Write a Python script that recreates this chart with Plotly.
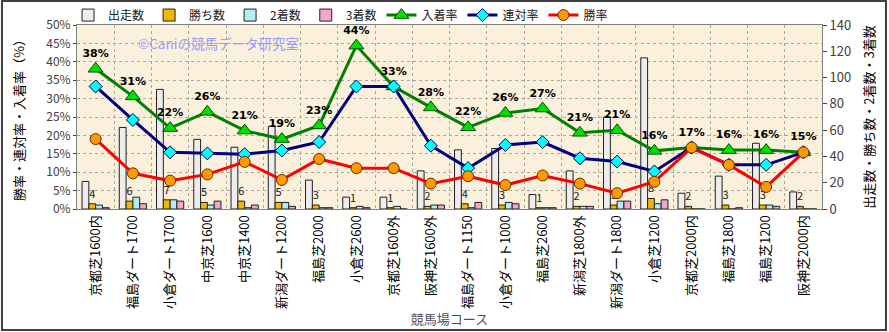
import plotly.graph_objects as go

courses = ["京都芝1600内", "福島ダート1700", "小倉ダート1700", "中京芝1600", "中京芝1400",
           "新潟ダート1200", "福島芝2000", "小倉芝2600", "京都芝1600外", "阪神芝1600外",
           "福島ダート1150", "小倉ダート1000", "福島芝2600", "新潟芝1800外", "新潟ダート1800",
           "小倉芝1200", "京都芝2000内", "福島芝1800", "福島芝1200", "阪神芝2000内"]

runs = [21, 62, 91, 53, 47, 63, 22, 9, 9, 29, 45, 46, 11, 29, 70, 115, 12, 25, 50, 13]
wins = [4, 6, 7, 5, 6, 5, 3, 1, 1, 2, 4, 3, 1, 2, 3, 8, 2, 3, 3, 2]
seconds = [3, 9, 7, 3, 1, 5, 1, 2, 2, 3, 1, 5, 1, 2, 6, 4, 0, 0, 3, 0]
thirds = [1, 4, 6, 6, 3, 2, 1, 1, 0, 3, 5, 4, 1, 2, 6, 7, 0, 1, 2, 0]

place_rate = [38.1, 30.6, 22.0, 26.4, 21.3, 19.0, 22.7, 44.4, 33.3, 27.6,
              22.2, 26.1, 27.3, 20.7, 21.4, 15.8, 16.7, 16.0, 16.0, 15.4]
quinella_rate = [33.3, 24.2, 15.4, 15.1, 14.9, 15.9, 18.2, 33.3, 33.3, 17.2,
                 11.1, 17.4, 18.2, 13.8, 12.9, 10.2, 16.7, 12.0, 12.0, 15.4]
win_rate = [19.0, 9.7, 7.7, 9.4, 12.8, 7.9, 13.6, 11.1, 11.1, 6.9,
            8.9, 6.5, 9.1, 6.9, 4.3, 7.4, 16.7, 12.0, 6.0, 15.4]
place_labels = ["38%", "31%", "22%", "26%", "21%", "19%", "23%", "44%", "33%", "28%",
                "22%", "26%", "27%", "21%", "21%", "16%", "17%", "16%", "16%", "15%"]

FONT = "Noto Sans CJK JP"
fig = go.Figure()

bar_line = dict(color="#202020", width=1)
fig.add_trace(go.Bar(name="出走数", x=courses, y=runs, yaxis="y",
                     marker=dict(color="#EDEDED", line=bar_line)))
fig.add_trace(go.Bar(name="勝ち数", x=courses, y=wins, yaxis="y",
                     marker=dict(color="#F2B705", line=bar_line),
                     text=[str(v) for v in wins], textposition="outside",
                     textfont=dict(size=11, color="#202020", family=FONT),
                     cliponaxis=False))
fig.add_trace(go.Bar(name="2着数", x=courses, y=seconds, yaxis="y",
                     marker=dict(color="#B4ECF2", line=bar_line)))
fig.add_trace(go.Bar(name="3着数", x=courses, y=thirds, yaxis="y",
                     marker=dict(color="#F2A6CC", line=bar_line)))

fig.add_trace(go.Scatter(name="入着率", x=courses, y=place_rate, yaxis="y2",
                         mode="lines+markers+text", text=place_labels,
                         textposition="top center",
                         textfont=dict(size=11, color="#000000", family="DejaVu Sans", weight="bold"),
                         line=dict(color="#008000", width=3),
                         marker=dict(symbol="triangle-up", size=13, color="#00E000",
                                     line=dict(color="#005000", width=1)),
                         cliponaxis=False))
fig.add_trace(go.Scatter(name="連対率", x=courses, y=quinella_rate, yaxis="y2",
                         mode="lines+markers",
                         line=dict(color="#000080", width=3),
                         marker=dict(symbol="diamond", size=10, color="#00FFFF",
                                     line=dict(color="#000060", width=1))))
fig.add_trace(go.Scatter(name="勝率", x=courses, y=win_rate, yaxis="y2",
                         mode="lines+markers",
                         line=dict(color="#FF0000", width=3),
                         marker=dict(symbol="circle", size=11, color="#FF9900",
                                     line=dict(color="#603000", width=1))))

fig.update_layout(
    width=889, height=332,
    margin=dict(l=77, r=67, t=25, b=123, autoexpand=False),
    paper_bgcolor="#FFFFFF",
    plot_bgcolor="#FAF0DC",
    font=dict(family=FONT, color="#202020"),
    barmode="group", bargap=0.27, bargroupgap=0,
    showlegend=True,
    legend=dict(orientation="h", x=-0.012, y=1.054, xanchor="left", yanchor="middle",
                font=dict(size=12, color="#202020", family=FONT),
                itemwidth=30, tracegroupgap=0, bgcolor="rgba(0,0,0,0)"),
    xaxis=dict(type="category", tickangle=-90, tickson="boundaries",
               showgrid=True, gridcolor="#A8A8A0", griddash="dot", gridwidth=1,
               ticks="", tickfont=dict(size=13, color="#000000", family=FONT),
               showline=True, linecolor="#808080", linewidth=1, mirror=True,
               title=dict(text="競馬場コース", font=dict(size=13, color="#505050"), standoff=2),
               range=[-0.5, 19.5]),
    yaxis=dict(side="right", range=[0, 140], dtick=20, showgrid=False,
               ticks="outside", ticklen=4, tickcolor="#404040",
               tickfont=dict(size=13, color="#404040"),
               showline=True, linecolor="#808080", linewidth=1,
               title=dict(text="出走数・勝ち数・2着数・3着数", font=dict(size=13, color="#000000"),
                          standoff=14),
               zeroline=False),
    yaxis2=dict(side="left", overlaying="y", range=[0, 50], dtick=5, ticksuffix="%",
                showgrid=True, gridcolor="#A8A8A0", griddash="dot", gridwidth=1,
                ticks="outside", ticklen=3, tickcolor="#404040",
                tickfont=dict(size=12, color="#404040"),
                showline=True, linecolor="#808080", linewidth=1,
                title=dict(text="勝率・連対率・入着率（%）", font=dict(size=13, color="#000000"),
                           standoff=18),
                zeroline=False),
    annotations=[dict(text="©Caniの競馬データ研究室", xref="paper", yref="paper",
                      x=0.19, y=0.902, xanchor="center", yanchor="middle", showarrow=False,
                      font=dict(size=13.5, color="#9A9AFF", family=FONT))],
    shapes=[dict(type="rect", xref="paper", yref="paper",
                 x0=-0.1007, x1=1.0859, y0=-0.6576, y1=1.1304,
                 line=dict(color="#404040", width=2), layer="below")],
)

fig.write_html("out.html")
